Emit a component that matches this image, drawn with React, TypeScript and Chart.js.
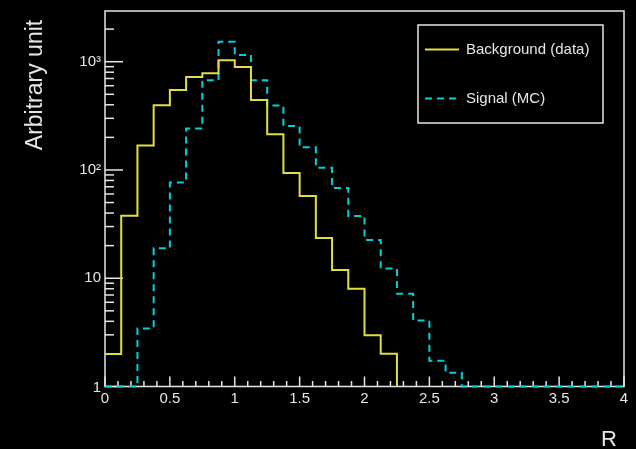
import React, { useEffect, useRef } from 'react';
import { Chart, registerables } from 'chart.js';

Chart.register(...registerables);

// Histogram bins (lower edges), width 0.125 in R
const binLow = [
  0, 0.125, 0.25, 0.375, 0.5, 0.625, 0.75, 0.875,
  1.0, 1.125, 1.25, 1.375, 1.5, 1.625, 1.75, 1.875,
  2.0, 2.125, 2.25, 2.375, 2.5, 2.625, 2.75, 2.875,
  3.0, 3.125, 3.25, 3.375, 3.5, 3.625, 3.75, 3.875,
];
const binWidth = 0.125;

// Background (data): empty bins are null (not drawn)
const backgroundValues: (number | null)[] = [
  2.0, 37.8, 168, 396, 548, 723, 782, 1030,
  894, 443, 214, 94, 57.4, 23.5, 11.9, 8.0,
  2.97, 2.01, null, null, null, null, null, null,
  null, null, null, null, null, null, null, null,
];

// Signal (MC): values below the axis floor are drawn on the floor
const signalValues: number[] = [
  0, 0, 3.44, 18.9, 76.8, 241, 674, 1528,
  1153, 674, 393, 255, 162, 105, 68, 37.6,
  22.6, 12.3, 7.18, 4.07, 1.73, 1.34, 0, 0,
  0, 0, 0, 0, 0, 0, 0, 0,
];

const seriesLabels = ['Background (data)', 'Signal (MC)'];
const seriesColors = ['#e2de3e', '#00d2da'];

const xMajorTicks = [0, 0.5, 1, 1.5, 2, 2.5, 3, 3.5, 4];
const xTickLabels = ['0', '0.5', '1', '1.5', '2', '2.5', '3', '3.5', '4'];
const yMajorTicks = [1, 10, 100, 1000];
const yTickLabels = ['1', '10', '10\u00B2', '10\u00B3'];

const xTitle = 'R';
const yTitle = 'Arbitrary unit';

const xMin = 0;
const xMax = 4;
const yMin = 1;
const yMax = 2940;

function toSteps(values: (number | null)[]) {
  const pts: { x: number; y: number | null }[] = [];
  let prevNull = true;
  values.forEach((v, i) => {
    const lo = binLow[i];
    const hi = lo + binWidth;
    if (v === null) {
      if (!prevNull) {
        pts.push({ x: lo, y: yMin });
        pts.push({ x: lo, y: null });
      }
      prevNull = true;
      return;
    }
    const y = Math.max(v, yMin);
    pts.push({ x: lo, y }, { x: hi, y });
    prevNull = false;
  });
  return pts;
}

const FG = '#e6e6e6';
const FONT = '"Liberation Sans", Arial, Helvetica, sans-serif';

const framePlugin = {
  id: 'rootFrame',
  beforeDraw(chart: any) {
    const ctx = chart.ctx;
    ctx.save();
    ctx.fillStyle = '#000000';
    ctx.fillRect(0, 0, chart.width, chart.height);
    ctx.restore();
  },
  beforeDatasetsDraw(chart: any) {
    const ctx = chart.ctx;
    const { left, right, top, bottom } = chart.chartArea;
    const xs = chart.scales.x;
    const ys = chart.scales.y;
    ctx.save();
    ctx.strokeStyle = FG;
    ctx.lineWidth = 1.5;
    ctx.strokeRect(left, top, right - left, bottom - top);

    ctx.lineWidth = 1.5;
    // x ticks
    for (let k = 0; k <= 40; k++) {
      const v = k / 10;
      const px = xs.getPixelForValue(v);
      const major = k % 5 === 0;
      const len = major ? 10 : 5.5;
      ctx.beginPath();
      ctx.moveTo(px, bottom);
      ctx.lineTo(px, bottom - len);
      ctx.stroke();
    }
    // y ticks
    for (let d = 1; d <= 1000; d *= 10) {
      for (let m = 1; m <= 9; m++) {
        const v = d * m;
        if (v > yMax) continue;
        const py = ys.getPixelForValue(v);
        const len = m === 1 ? 18 : 9;
        ctx.beginPath();
        ctx.moveTo(left, py);
        ctx.lineTo(left + len, py);
        ctx.stroke();
      }
    }

    // tick labels
    ctx.fillStyle = FG;
    ctx.font = `15px ${FONT}`;
    ctx.textAlign = 'center';
    ctx.textBaseline = 'top';
    xMajorTicks.forEach((v, i) => {
      ctx.fillText(xTickLabels[i], xs.getPixelForValue(v), bottom + 5);
    });
    ctx.textAlign = 'right';
    ctx.textBaseline = 'middle';
    yMajorTicks.forEach((v, i) => {
      const py = ys.getPixelForValue(v);
      ctx.fillText(yTickLabels[i], left - 4, i === 0 ? py + 1 : py);
    });

    // axis titles
    ctx.font = `22px ${FONT}`;
    ctx.textAlign = 'right';
    ctx.textBaseline = 'alphabetic';
    ctx.fillText(xTitle, right - 7, chart.height - 3);

    ctx.save();
    ctx.translate(42, 85);
    ctx.rotate(-Math.PI / 2);
    ctx.textAlign = 'center';
    ctx.textBaseline = 'alphabetic';
    ctx.font = `23px ${FONT}`;
    ctx.fillText(yTitle, 0, 0);
    ctx.restore();

    ctx.restore();
  },
  afterDatasetsDraw(chart: any) {
    const ctx = chart.ctx;
    ctx.save();
    const bx = 418;
    const by = 25;
    const bw = 185;
    const bh = 98;
    ctx.strokeStyle = FG;
    ctx.lineWidth = 1.5;
    ctx.strokeRect(bx, by, bw, bh);
    ctx.font = `15px ${FONT}`;
    ctx.textAlign = 'left';
    ctx.textBaseline = 'middle';
    chart.data.datasets.forEach((ds: any, i: number) => {
      const cy = by + 24.5 + i * 49;
      ctx.strokeStyle = ds.borderColor;
      ctx.lineWidth = 2;
      ctx.setLineDash(ds.borderDash || []);
      ctx.beginPath();
      ctx.moveTo(bx + 7, cy);
      ctx.lineTo(bx + 41, cy);
      ctx.stroke();
      ctx.setLineDash([]);
      ctx.fillStyle = FG;
      ctx.fillText(ds.label, bx + 48, cy);
    });
    ctx.restore();
  },
};

export default function App() {
  const canvasRef = useRef<HTMLCanvasElement | null>(null);

  useEffect(() => {
    document.body.style.margin = '0';
    document.body.style.background = '#000';
    const canvas = canvasRef.current;
    if (!canvas) return;
    const chart = new Chart(canvas, {
      type: 'line',
      data: {
        datasets: [
          {
            label: seriesLabels[0],
            data: toSteps(backgroundValues) as any,
            borderColor: seriesColors[0],
            borderWidth: 2,
            pointRadius: 0,
            tension: 0,
            fill: false,
            spanGaps: false,
            clip: false as any,
          },
          {
            label: seriesLabels[1],
            data: toSteps(signalValues) as any,
            borderColor: seriesColors[1],
            borderWidth: 2,
            borderDash: [7, 5],
            pointRadius: 0,
            tension: 0,
            fill: false,
            spanGaps: false,
            clip: false as any,
          },
        ],
      },
      options: {
        responsive: false,
        animation: false,
        devicePixelRatio: 1,
        layout: { padding: { left: 105, top: 11, right: 12, bottom: 62.5 } },
        plugins: {
          legend: { display: false },
          tooltip: { enabled: false },
        },
        scales: {
          x: { type: 'linear', min: xMin, max: xMax, display: false },
          y: { type: 'logarithmic', min: yMin, max: yMax, display: false },
        },
      },
      plugins: [framePlugin],
    });
    return () => chart.destroy();
  }, []);

  return (
    <div style={{ width: 636, height: 449, background: '#000' }}>
      <canvas ref={canvasRef} width={636} height={449} style={{ display: 'block' }} />
    </div>
  );
}
